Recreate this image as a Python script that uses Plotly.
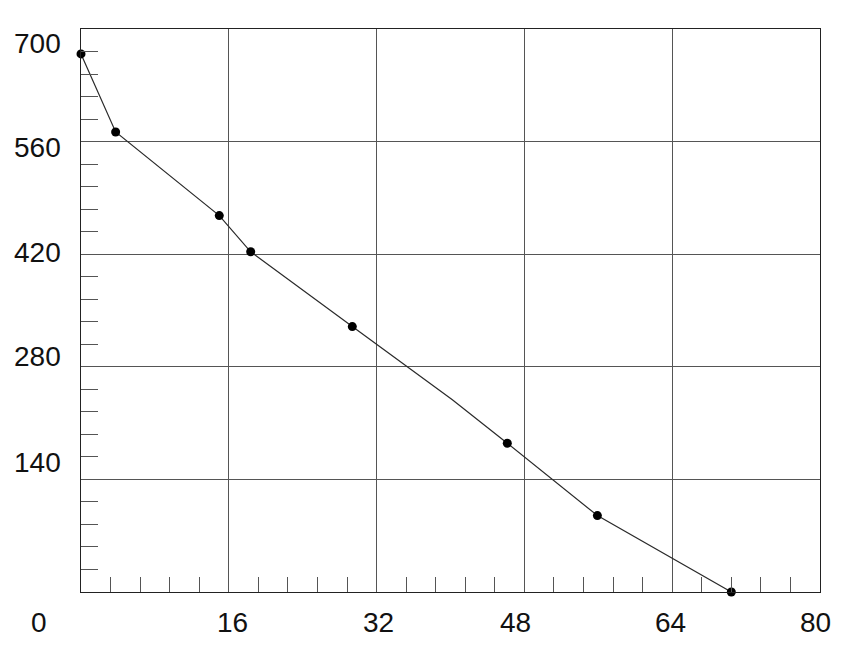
import plotly.graph_objects as go

# Vertices de la linea
linea_x = [0, 3.75, 14.97, 18.37, 29.37, 40.2, 46.15, 55.9, 70.4]
linea_y = [669, 572, 468, 423, 330, 239, 185, 95, 0]

# Puntos marcados (el vertice de x=40.2 no lleva punto)
puntos_x = [0, 3.75, 14.97, 18.37, 29.37, 46.15, 55.9, 70.4]
puntos_y = [669, 572, 468, 423, 330, 185, 95, 0]

# Etiquetas de los ejes
etiquetas_x = [0, 16, 32, 48, 64, 80]
etiquetas_y = [700, 560, 420, 280, 140]

# Desplazamientos (px) de las etiquetas para que queden como en el original
desplaz_x = [-42, 4, 2, -9, -2, -5]
desplaz_y = [-14, -6, 2, 10, 17]

fuente = dict(family="Liberation Sans, Arial, sans-serif", size=28, color="#111111")

fig = go.Figure()

# Linea
fig.add_trace(go.Scatter(
    x=linea_x, y=linea_y,
    mode="lines",
    line=dict(color="#2a2a2a", width=1.2),
    hoverinfo="skip",
    cliponaxis=False,
))

# Puntos
fig.add_trace(go.Scatter(
    x=puntos_x, y=puntos_y,
    mode="markers",
    marker=dict(color="black", size=9),
    cliponaxis=False,
))

# Etiquetas del eje X
for val, dx in zip(etiquetas_x, desplaz_x):
    fig.add_annotation(
        x=val, y=0, xref="x", yref="paper",
        text=str(val), showarrow=False,
        xanchor="center", yanchor="middle",
        xshift=dx, yshift=-30, font=fuente,
    )

# Etiquetas del eje Y
for val, dy in zip(etiquetas_y, desplaz_y):
    fig.add_annotation(
        x=0, y=val, xref="paper", yref="y",
        text=str(val), showarrow=False,
        xanchor="right", yanchor="middle",
        xshift=-18, yshift=dy, font=fuente,
    )

# La pagina tiene 8px de margen en el body, por eso el tamaño es 856x641
fig.update_layout(
    width=856, height=641,
    margin=dict(l=73, r=44, t=21, b=57),
    plot_bgcolor="white", paper_bgcolor="white",
    showlegend=False,
    xaxis=dict(
        range=[0, 80], dtick=16, tick0=0,
        showgrid=True, gridcolor="#555555", gridwidth=1,
        zeroline=False, showticklabels=False, ticks="",
        showline=True, linecolor="#222222", linewidth=1.2, mirror=True,
        minor=dict(dtick=3.2, tick0=0, ticks="inside", ticklen=15,
                   tickcolor="#555555", tickwidth=1, showgrid=False),
    ),
    yaxis=dict(
        range=[0, 700], dtick=140, tick0=0,
        showgrid=True, gridcolor="#555555", gridwidth=1,
        zeroline=False, showticklabels=False, ticks="",
        showline=True, linecolor="#222222", linewidth=1.2, mirror=True,
        minor=dict(dtick=28, tick0=0, ticks="inside", ticklen=17,
                   tickcolor="#555555", tickwidth=1, showgrid=False),
    ),
)

fig.write_html("out.html")
